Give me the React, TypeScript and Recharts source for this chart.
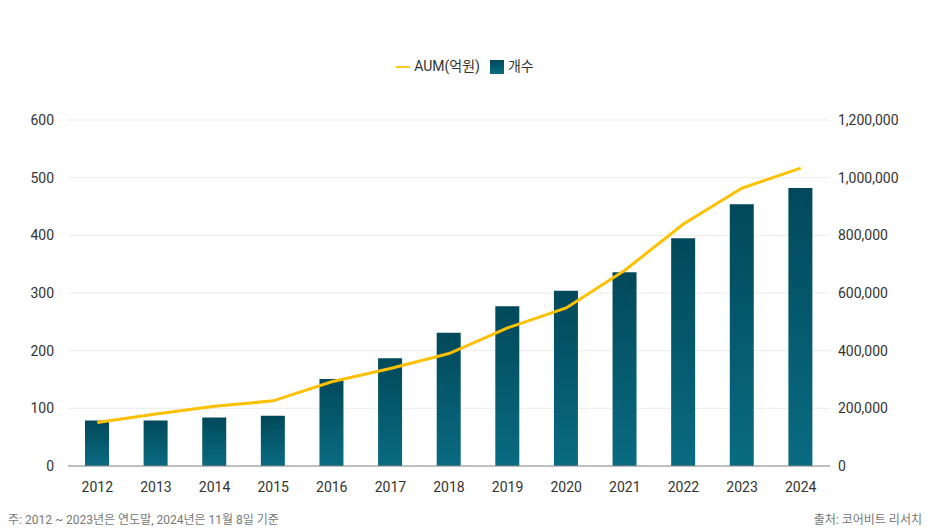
import React from "react";
import {
  ComposedChart,
  Bar,
  Line,
  XAxis,
  YAxis,
  CartesianGrid,
  Legend,
} from "recharts";

const years = ["2012", "2013", "2014", "2015", "2016", "2017", "2018", "2019", "2020", "2021", "2022", "2023", "2024"];
const counts = [79, 79, 84, 87, 151, 187, 231, 277, 304, 336, 395, 454, 482];
const aum = [151000, 180000, 207000, 226000, 292000, 338000, 390000, 479000, 548000, 679000, 839000, 964000, 1033000];
const leftTicks = [0, 100, 200, 300, 400, 500, 600];
const rightTicks = [0, 200000, 400000, 600000, 800000, 1000000, 1200000];

const data = years.map((y, i) => ({ year: y, count: counts[i], aum: aum[i] }));

const font = "Roboto, 'Noto Sans CJK KR', sans-serif";

export default function App() {
  return (
    <div style={{ position: "absolute", left: 0, top: 0, width: 940, height: 529, background: "#fff", fontFamily: font }}>
      <ComposedChart width={940} height={529} data={data} margin={{ top: 100, right: 0, bottom: 33, left: 0 }}>
        <defs>
          <linearGradient id="barGrad" x1="0" y1="0" x2="0" y2="1">
            <stop offset="0%" stopColor="#01495a" />
            <stop offset="100%" stopColor="#0a6b81" />
          </linearGradient>
        </defs>
        <CartesianGrid yAxisId="l" stroke="#ececec" vertical={false} />
        <XAxis
          dataKey="year"
          tick={{ fill: "#333", fontSize: 14, fontFamily: font }}
          tickLine={false}
          axisLine={{ stroke: "#888" }}
          height={30}
          tickMargin={10}
        />
        <YAxis
          yAxisId="l"
          domain={[0, 600]}
          ticks={leftTicks}
          width={68}
          axisLine={false}
          tickLine={false}
          tick={{ fill: "#333", fontSize: 14, fontFamily: font, dx: -6 }}
        />
        <YAxis
          yAxisId="r"
          orientation="right"
          domain={[0, 1200000]}
          ticks={rightTicks}
          width={110}
          axisLine={false}
          tickLine={false}
          tickFormatter={(v) => v.toLocaleString("en-US")}
          tick={{ fill: "#333", fontSize: 14, fontFamily: font, dx: 0, textAnchor: "start" }}
        />
        <Legend
          verticalAlign="top"
          align="center"
          wrapperStyle={{ top: 55, fontSize: 14, fontFamily: font, color: "#333" }}
          formatter={(v) => <span style={{ color: "#333" }}>{v}</span>}
        />
        <Bar yAxisId="l" dataKey="count" name="개수" fill="url(#barGrad)" barSize={24} legendType="square" isAnimationActive={false} />
        <Line yAxisId="r" dataKey="aum" name="AUM(억원)" stroke="#ffc000" strokeWidth={3} dot={false} legendType="plainline" isAnimationActive={false} />
      </ComposedChart>
      <div style={{ position: "absolute", left: 8, top: 510, fontSize: 12, color: "#777" }}>
        주: 2012 ~ 2023년은 연도말, 2024년은 11월 8일 기준
      </div>
      <div style={{ position: "absolute", right: 18, top: 510, fontSize: 12, color: "#777" }}>
        출처: 코어비트 리서치
      </div>
    </div>
  );
}
